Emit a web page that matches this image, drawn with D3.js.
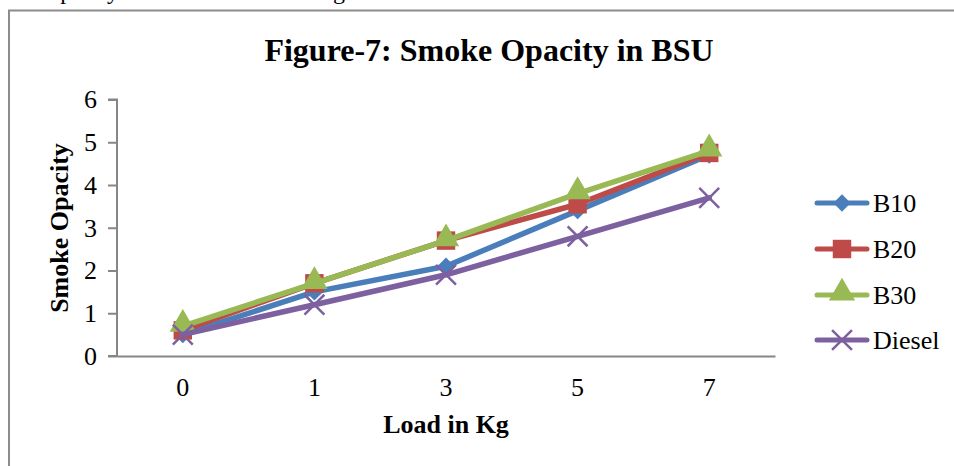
<!DOCTYPE html>
<html><head><meta charset="utf-8">
<script src="https://cdn.jsdelivr.net/npm/d3@7"></script>
<style>body{margin:0;background:#fff}svg{display:block}</style>
</head><body>
<script>
const categories = ["0","1","3","5","7"];
const seriesNames = ["B10","B20","B30","Diesel"];
const b10 = [0.5,1.5,2.1,3.4,4.7];
const b20 = [0.6,1.7,2.7,3.55,4.75];
const b30 = [0.7,1.7,2.7,3.8,4.8];
const diesel = [0.5,1.2,1.9,2.8,3.7];
const yTicks = [0,1,2,3,4,5,6];
const colors = ["#4A7EBB","#BE4B48","#98B954","#7D60A0"];
const symbols = [d3.symbolDiamond2, d3.symbolSquare, d3.symbolTriangle, d3.symbolX];

const data = [b10,b20,b30,diesel];
const W=954,H=466;
const svg=d3.select("body").append("svg").attr("width",W).attr("height",H);
const font="'Liberation Serif','Times New Roman',serif";

// document fragment text at top (cut off by the page edge, only descenders show)
svg.append("text").attr("x",43).attr("y",-1).attr("font-family",font).attr("font-size",24).text("Opacity");
svg.append("text").attr("x",273).attr("y",-1).attr("font-family",font).attr("font-size",24).text("loading");

// frame
svg.append("path").attr("d",`M9,${H} V10.5 H${W}`).attr("fill","none").attr("stroke","#8c8c8c").attr("stroke-width",2);

const x=d3.scaleBand().domain(categories).range([117,775]);
const y=d3.scaleLinear().domain([0,6]).range([356,99.5]);

// y axis
const ya=svg.append("g").attr("transform","translate(117,0)")
 .call(d3.axisLeft(y).tickValues(yTicks).tickSize(9).tickPadding(11).tickFormat(d3.format("d")));
ya.select(".domain").attr("stroke","#868686").attr("stroke-width",2).attr("d","M-9,99.5H0V356H-9");
ya.selectAll(".tick line").attr("stroke","#868686").attr("stroke-width",2);
ya.selectAll("text").attr("font-family",font).attr("font-size",26).attr("fill","#000");

// x axis
const xa=svg.append("g").attr("transform","translate(0,356)")
 .call(d3.axisBottom(x).tickSize(0).tickPadding(22));
xa.select(".domain").attr("stroke","#868686").attr("stroke-width",2);
xa.selectAll("text").attr("font-family",font).attr("font-size",26).attr("fill","#000");

// titles
svg.append("text").attr("x",489).attr("y",61).attr("text-anchor","middle").attr("font-family",font)
 .attr("font-weight","bold").attr("font-size",32).text("Figure-7: Smoke Opacity in BSU");
svg.append("text").attr("x",446).attr("y",433).attr("text-anchor","middle").attr("font-family",font)
 .attr("font-weight","bold").attr("font-size",26).text("Load in Kg");
svg.append("text").attr("transform","translate(68,228) rotate(-90)").attr("text-anchor","middle").attr("font-family",font)
 .attr("font-weight","bold").attr("font-size",26).text("Smoke Opacity");

const line=d3.line().x((d,i)=>x(categories[i])+x.bandwidth()/2).y(d=>y(d));
const sizes=[190,340,300,260];
function marker(g,i,cx,cy){
  const p=g.append("path").attr("d",d3.symbol().type(symbols[i]).size(sizes[i])())
   .attr("transform",`translate(${cx},${cy})${i===2?" translate(0,-2)":""}`);
  if(i===3) p.attr("fill","none").attr("stroke",colors[i]).attr("stroke-width",2.5);
  else p.attr("fill",colors[i]);
}
data.forEach((s,i)=>{
  const g=svg.append("g");
  g.append("path").attr("d",line(s)).attr("fill","none").attr("stroke",colors[i])
   .attr("stroke-width",5.5).attr("stroke-linejoin","round").attr("stroke-linecap","round");
  s.forEach((v,j)=>marker(g,i,x(categories[j])+x.bandwidth()/2,y(v)));
});

// legend
const ly=[203,249,295,340];
seriesNames.forEach((n,i)=>{
  const g=svg.append("g");
  g.append("line").attr("x1",817).attr("x2",867).attr("y1",ly[i]).attr("y2",ly[i]).attr("stroke",colors[i])
   .attr("stroke-width",5).attr("stroke-linecap","round");
  marker(g,i,842,ly[i]);
  g.append("text").attr("x",873).attr("y",ly[i]+9).attr("font-family",font).attr("font-size",26).text(n);
});
</script>
</body></html>
